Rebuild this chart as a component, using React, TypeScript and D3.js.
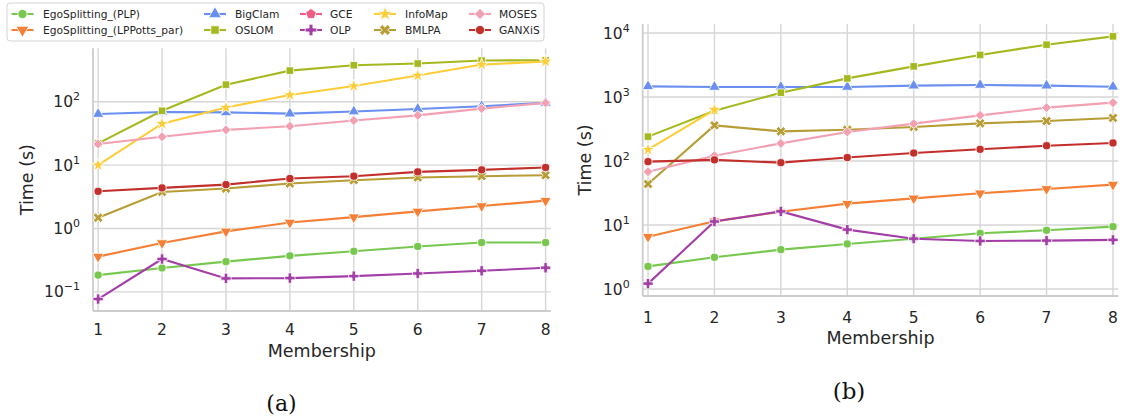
import React, { useEffect, useRef } from 'react';
import * as d3 from 'd3';

// x axis: number of memberships per node
const membership = [1, 2, 3, 4, 5, 6, 7, 8];

const methods = [
  'EgoSplitting_(PLP)', 'EgoSplitting_(LPPotts_par)', 'BigClam', 'OSLOM', 'GCE',
  'OLP', 'InfoMap', 'BMLPA', 'MOSES', 'GANXiS',
];

// panel (a) running times, seconds
const egoPlpA = [0.184, 0.238, 0.3, 0.37, 0.437, 0.52, 0.6, 0.6];
const egoLpA = [0.36, 0.59, 0.9, 1.24, 1.51, 1.86, 2.26, 2.75];
const bigClamA = [64, 69, 68, 65, 70, 77, 85, 96];
const oslomA = [22, 72, 186, 310, 377, 401, 447, 452];
const gceA: (number | null)[] = [];
const olpA = [0.077, 0.33, 0.163, 0.165, 0.177, 0.195, 0.215, 0.24];
const infoMapA = [10, 45, 81, 128, 177, 259, 386, 431];
const bmlpaA = [1.48, 3.77, 4.27, 5.13, 5.78, 6.38, 6.69, 6.93];
const mosesA = [21.5, 28, 36, 41, 50.5, 61, 78, 96];
const ganxisA = [3.86, 4.37, 4.93, 6.15, 6.69, 7.83, 8.43, 9.18];

// panel (b) running times, seconds
const egoPlpB = [2.25, 3.12, 4.11, 5.05, 6.1, 7.4, 8.24, 9.4];
const egoLpB = [6.56, 11.4, 16.1, 21.5, 26, 31.2, 36.5, 42.7];
const bigClamB = [1466, 1433, 1433, 1433, 1503, 1537, 1503, 1446];
const oslomB = [240, 611, 1166, 1950, 3006, 4530, 6560, 8850];
const gceB: (number | null)[] = [];
const olpB = [1.21, 11.3, 16.3, 8.45, 6.1, 5.62, 5.69, 5.84];
const infoMapB = [150, 630, null, null, null, null, null, null];
const bmlpaB = [43.6, 360, 290, 308, 340, 387, 421, 470];
const mosesB = [68, 121, 188, 284, 383, 516, 681, 815];
const ganxisB = [97.5, 104, 94, 113, 133, 152, 173, 191];

const seriesA = [egoPlpA, egoLpA, bigClamA, oslomA, gceA, olpA, infoMapA, bmlpaA, mosesA, ganxisA];
const seriesB = [egoPlpB, egoLpB, bigClamB, oslomB, gceB, olpB, infoMapB, bmlpaB, mosesB, ganxisB];

const colors = [
  '#78c850', '#f47f35', '#6a8ff0', '#a6b81f', '#ef5b85',
  '#a33ea6', '#fccd38', '#b79d35', '#f2a0b2', '#c32f2b',
];
const shapes = ['circle', 'tridown', 'triup', 'square', 'pentagon', 'plus', 'star', 'x', 'diamond', 'circle'];

const INK = '#262626';
const FONT = '"DejaVu Sans", sans-serif';

function markerPath(kind: string, s: number): string {
  const sym = (t: d3.SymbolType, size: number) => d3.symbol().type(t).size(size)()!;
  switch (kind) {
    case 'circle': return sym(d3.symbolCircle, s * 0.85);
    case 'square': return sym(d3.symbolSquare, s * 0.9);
    case 'triup': return sym(d3.symbolTriangle, s * 0.9);
    case 'tridown': return sym(d3.symbolTriangle, s * 0.9);
    case 'star': return sym(d3.symbolStar, s * 0.9);
    case 'plus': return sym(d3.symbolCross, s * 0.95);
    case 'x': return sym(d3.symbolCross, s * 0.95);
    case 'diamond': return sym(d3.symbolSquare, s * 0.8);
    case 'pentagon': {
      const r = Math.sqrt(s) * 0.62;
      const pts = d3.range(5).map(i => {
        const a = -Math.PI / 2 + (i * 2 * Math.PI) / 5;
        return [r * Math.cos(a), r * Math.sin(a)];
      });
      return 'M' + pts.map(p => p.join(',')).join('L') + 'Z';
    }
    default: return sym(d3.symbolCircle, s);
  }
}
function markerRotate(kind: string): number {
  if (kind === 'tridown') return 180;
  if (kind === 'x' || kind === 'diamond') return 45;
  return 0;
}

type PanelProps = {
  series: (number | null)[][];
  left: number; right: number; top: number; bottom: number;
  tickBase: number; labelBase: number; yLabelX: number;
};

const Panel = ({ series, left, right, top, bottom, tickBase, labelBase, yLabelX }: PanelProps) => {
  const ref = useRef<SVGGElement>(null);

  useEffect(() => {
    if (!ref.current) return;
    const g = d3.select(ref.current);
    g.selectAll('*').remove();

    const all = series.flat().filter((v): v is number => v != null);
    const lo = Math.log10(d3.min(all)!);
    const hi = Math.log10(d3.max(all)!);
    const pad = (hi - lo) * 0.05;

    const x = d3.scaleLinear().domain([0.92, 8.08]).range([left, right]);
    const y = d3.scaleLog().domain([10 ** (lo - pad), 10 ** (hi + pad)]).range([bottom, top]);

    const decades = d3.range(Math.ceil(lo - pad), Math.floor(hi + pad) + 1);

    // grid
    g.append('g').selectAll('line').data(membership).enter().append('line')
      .attr('x1', d => x(d)).attr('x2', d => x(d))
      .attr('y1', top).attr('y2', bottom)
      .attr('stroke', '#d6d6d6').attr('stroke-width', 1.4);
    g.append('g').selectAll('line').data(decades).enter().append('line')
      .attr('x1', left).attr('x2', right)
      .attr('y1', d => y(10 ** d)).attr('y2', d => y(10 ** d))
      .attr('stroke', '#d6d6d6').attr('stroke-width', 1.4);

    // spines (left + bottom only)
    g.append('line').attr('x1', left).attr('x2', left).attr('y1', top).attr('y2', bottom)
      .attr('stroke', '#cccccc').attr('stroke-width', 1.8);
    g.append('line').attr('x1', left).attr('x2', right).attr('y1', bottom).attr('y2', bottom)
      .attr('stroke', '#cccccc').attr('stroke-width', 1.8);

    // x tick labels
    g.append('g').selectAll('text').data(membership).enter().append('text')
      .attr('x', d => x(d)).attr('y', tickBase)
      .attr('text-anchor', 'middle').attr('font-family', FONT).attr('font-size', 15.5)
      .attr('fill', INK).text(d => d);

    // y tick labels as 10^n
    const yt = g.append('g').selectAll('text').data(decades).enter().append('text')
      .attr('x', left - 13).attr('y', d => y(10 ** d) + 5.6)
      .attr('text-anchor', 'end').attr('font-family', FONT).attr('font-size', 15.5)
      .attr('fill', INK);
    yt.append('tspan').text('10');
    yt.append('tspan').attr('dy', -7).attr('font-size', 11)
      .text(d => (d < 0 ? '\u2212' + Math.abs(d) : String(d)));

    // axis labels
    g.append('text').attr('x', (left + right) / 2).attr('y', labelBase)
      .attr('text-anchor', 'middle').attr('font-family', FONT).attr('font-size', 17.5)
      .attr('fill', INK).text('Membership');
    g.append('text')
      .attr('transform', `translate(${yLabelX},${(top + bottom) / 2}) rotate(-90)`)
      .attr('text-anchor', 'middle').attr('dy', '0.35em')
      .attr('font-family', FONT).attr('font-size', 17.5)
      .attr('fill', INK).text('Time (s)');

    // lines + markers per method
    series.forEach((vals, i) => {
      const pts = membership
        .map((m, j) => ({ m, v: vals[j] }))
        .filter((p): p is { m: number; v: number } => p.v != null);
      if (!pts.length) return;
      const line = d3.line<{ m: number; v: number }>().x(p => x(p.m)).y(p => y(p.v));
      g.append('path').datum(pts).attr('d', line)
        .attr('fill', 'none').attr('stroke', colors[i]).attr('stroke-width', 2.1);
      g.append('g').selectAll('path').data(pts).enter().append('path')
        .attr('d', markerPath(shapes[i], 62))
        .attr('transform', p => `translate(${x(p.m)},${y(p.v)}) rotate(${markerRotate(shapes[i])})`)
        .attr('fill', colors[i]).attr('stroke', '#ffffff').attr('stroke-width', 0.8);
    });
  }, [series, left, right, top, bottom, tickBase, labelBase, yLabelX]);

  return <g ref={ref} />;
};

const legendCols = [
  { mx: 22.5, tx: 43 },
  { mx: 215, tx: 235 },
  { mx: 311, tx: 330 },
  { mx: 385, tx: 405 },
  { mx: 480, tx: 499 },
];

const Legend = () => (
  <g>
    <rect x={7} y={3} width={537} height={38} rx={3} fill="#ffffff" fillOpacity={0.85}
      stroke="#d4d4d4" strokeWidth={1} />
    {methods.map((name, i) => {
      const col = legendCols[Math.floor(i / 2)];
      const cy = i % 2 === 0 ? 14 : 30;
      return (
        <g key={name}>
          <line x1={col.mx - 11} x2={col.mx + 11} y1={cy} y2={cy} stroke={colors[i]} strokeWidth={2.1} />
          <path d={markerPath(shapes[i], 78)}
            transform={`translate(${col.mx},${cy}) rotate(${markerRotate(shapes[i])})`}
            fill={colors[i]} stroke="#ffffff" strokeWidth={0.8} />
          <text x={col.tx} y={cy + 3.8} fontFamily={FONT} fontSize={10.7} fill={INK}>{name}</text>
        </g>
      );
    })}
  </g>
);

export default function App() {
  return (
    <div style={{ position: 'absolute', left: 0, top: 0 }}>
      <svg width={1128} height={418} style={{ display: 'block', background: '#ffffff' }}>
        <Panel series={seriesA} left={93} right={550.7} top={48.3} bottom={311}
          tickBase={335} labelBase={357} yLabelX={27} />
        <Panel series={seriesB} left={642.7} right={1118.3} top={24} bottom={296}
          tickBase={322.5} labelBase={343.5} yLabelX={585} />
        <Legend />
        <text x={281.5} y={411} textAnchor="middle" fontFamily='"DejaVu Serif", serif' fontSize={22}
          fill="#111">(a)</text>
        <text x={849} y={398.5} textAnchor="middle" fontFamily='"DejaVu Serif", serif' fontSize={23}
          fill="#111">(b)</text>
      </svg>
    </div>
  );
}
